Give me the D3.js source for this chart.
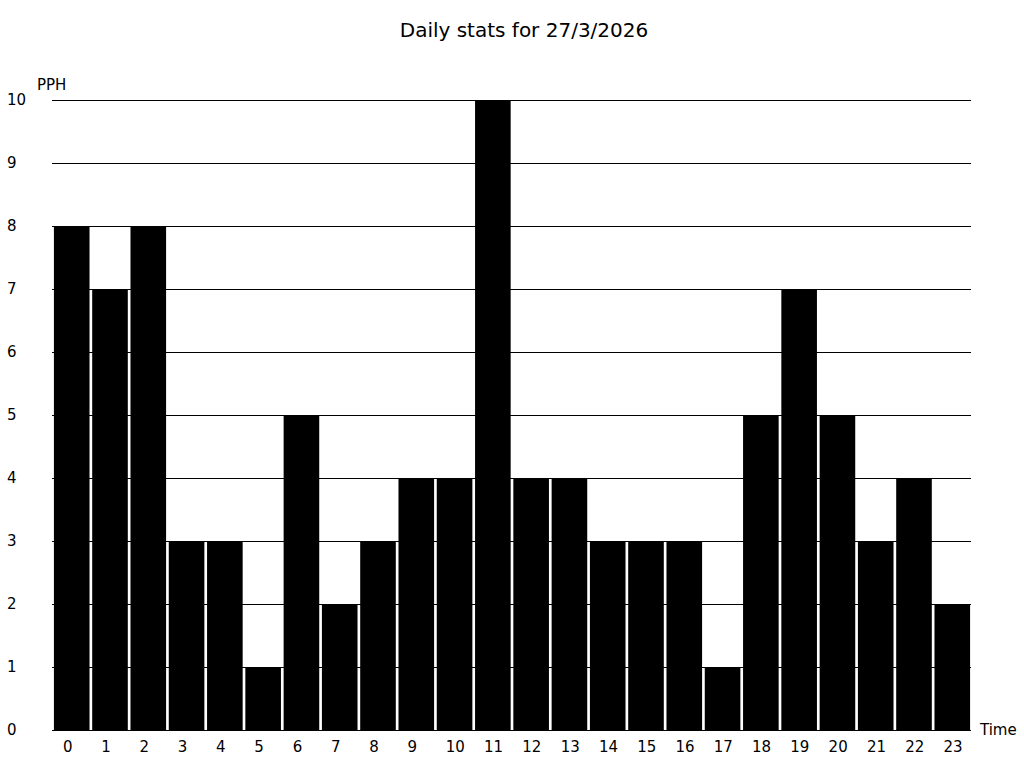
<!DOCTYPE html>
<html>
<head>
<meta charset="utf-8">
<script src="https://cdn.jsdelivr.net/npm/d3@7"></script>
<style>
  body { margin: 0; background: #fff; }
  text { font-family: "DejaVu Sans", sans-serif; fill: #000; }
</style>
</head>
<body>
<script>
// chart data
const hours = d3.range(24).map(String);
const pph = [8, 7, 8, 3, 3, 1, 5, 2, 3, 4, 4, 10, 4, 4, 3, 3, 3, 1, 5, 7, 5, 3, 4, 2];
const yTicks = [0, 1, 2, 3, 4, 5, 6, 7, 8, 9, 10];
const title = "Daily stats for 27/3/2026";

const width = 1024, height = 768;
const plotLeft = 52, plotRight = 971, plotTop = 100, plotBottom = 730;

const svg = d3.select("body").append("svg")
    .attr("width", width)
    .attr("height", height);

const x = d3.scaleBand()
    .domain(hours)
    .range([plotLeft, plotRight + 1])
    .paddingInner(0.07)
    .paddingOuter(0.05);

const y = d3.scaleLinear()
    .domain([0, 10])
    .range([plotBottom, plotTop]);

//title
svg.append("text")
    .attr("x", 524)
    .attr("y", 37)
    .attr("text-anchor", "middle")
    .style("font-size", "20px")
    .text(title);

//grid lines
svg.append("g")
    .selectAll("line")
    .data(yTicks.slice(1))
    .join("line")
    .attr("x1", plotLeft)
    .attr("x2", plotRight)
    .attr("y1", d => Math.round(y(d)) + 0.5)
    .attr("y2", d => Math.round(y(d)) + 0.5)
    .style("stroke", "#000")
    .style("stroke-width", 1);

//y labels
svg.append("g")
    .selectAll("text")
    .data(yTicks)
    .join("text")
    .attr("x", 7)
    .attr("y", d => y(d))
    .attr("dy", "0.35em")
    .style("font-size", "15px")
    .text(d => d);

//bars
svg.append("g")
    .selectAll("rect")
    .data(pph)
    .join("rect")
    .attr("x", (d, i) => x(hours[i]))
    .attr("y", d => y(d))
    .attr("width", x.bandwidth())
    .attr("height", d => y(0) - y(d))
    .style("fill", "#000");

//x axis line
svg.append("line")
    .attr("x1", plotLeft)
    .attr("x2", plotRight)
    .attr("y1", plotBottom + 0.5)
    .attr("y2", plotBottom + 0.5)
    .style("stroke", "#000");

//x labels, left aligned inside each band like the original
svg.append("g")
    .selectAll("text")
    .data(hours)
    .join("text")
    .attr("x", d => x(d) + 9)
    .attr("y", plotBottom + 22)
    .style("font-size", "15px")
    .text(d => d);

//axis titles
svg.append("text")
    .attr("x", 37)
    .attr("y", 90)
    .style("font-size", "15px")
    .text("PPH");

svg.append("text")
    .attr("x", 980)
    .attr("y", 735)
    .style("font-size", "15px")
    .text("Time");
</script>
</body>
</html>
